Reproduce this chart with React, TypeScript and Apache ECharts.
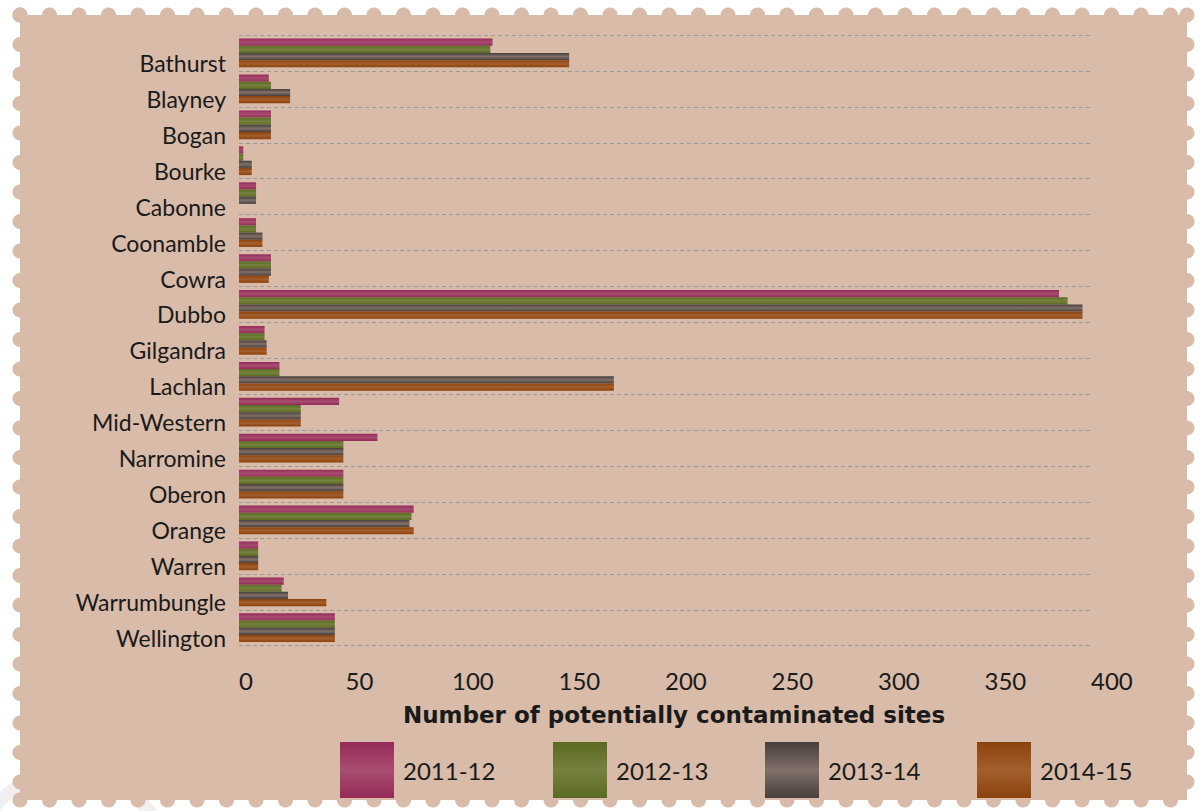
import React, { useEffect, useRef } from "react";
import * as echarts from "echarts";

const categories = [
  "Bathurst", "Blayney", "Bogan", "Bourke", "Cabonne", "Coonamble", "Cowra", "Dubbo",
  "Gilgandra", "Lachlan", "Mid-Western", "Narromine", "Oberon", "Orange", "Warren",
  "Warrumbungle", "Wellington",
];
const seriesNames = ["2011-12", "2012-13", "2013-14", "2014-15"];
const v2011_12 = [119, 14, 15, 2, 8, 8, 15, 385, 12, 19, 47, 65, 49, 82, 9, 21, 45];
const v2012_13 = [118, 15, 15, 2, 8, 8, 15, 389, 12, 19, 29, 49, 49, 81, 9, 20, 45];
const v2013_14 = [155, 24, 15, 6, 8, 11, 15, 396, 13, 176, 29, 49, 49, 80, 9, 23, 45];
const v2014_15 = [155, 24, 15, 6, 0, 11, 14, 396, 13, 176, 29, 49, 49, 82, 9, 41, 45];
const xTicks = [0, 50, 100, 150, 200, 250, 300, 350, 400];

const seriesValues = [v2011_12, v2012_13, v2013_14, v2014_15];
const seriesColors = [
  ["#942a59", "#a84d70"],
  ["#5a6a22", "#76823f"],
  ["#473e3b", "#7f7069"],
  ["#8a420d", "#a55f2c"],
];

const FONT = "Lato";
const TAN = "#d8bba9";

function grad(edge: string, mid: string) {
  return new echarts.graphic.LinearGradient(0, 0, 0, 1, [
    { offset: 0, color: edge },
    { offset: 0.5, color: mid },
    { offset: 1, color: edge },
  ]);
}

function stampGraphics() {
  const els: any[] = [];
  const L = 20, T = 15, R = 1187, B = 800, r = 7.5, step = 29.5;
  els.push({ type: "ring", shape: { cx: 70, cy: 870, r: 105, r0: 92 }, style: { fill: "#efefef" }, z: -30, silent: true });
  els.push({ type: "rect", shape: { x: L, y: T, width: R - L, height: B - T }, style: { fill: TAN }, z: -20, silent: true });
  for (let x = L; x <= R + 0.1; x += step) {
    els.push({ type: "circle", shape: { cx: x, cy: T, r }, style: { fill: TAN }, z: -20, silent: true });
    els.push({ type: "circle", shape: { cx: x, cy: B, r }, style: { fill: TAN }, z: -20, silent: true });
  }
  for (let y = T; y <= B + 0.1; y += step) {
    els.push({ type: "circle", shape: { cx: L, cy: y, r }, style: { fill: TAN }, z: -20, silent: true });
    els.push({ type: "circle", shape: { cx: R, cy: y, r }, style: { fill: TAN }, z: -20, silent: true });
  }
  return els;
}

export default function App() {
  const ref = useRef<HTMLDivElement>(null);
  useEffect(() => {
    if (!ref.current) return;
    const chart = echarts.init(ref.current, null, { renderer: "svg" });
    const legendLeft = [340, 553, 765, 977];
    chart.setOption({
      animation: false,
      backgroundColor: "#ffffff",
      graphic: stampGraphics(),
      grid: { left: 239, right: 109, top: 35, bottom: 165.3, containLabel: false },
      xAxis: {
        type: "value",
        min: xTicks[0],
        max: xTicks[xTicks.length - 1],
        interval: 50,
        axisLine: { show: false },
        axisTick: { show: false },
        splitLine: { show: false },
        axisLabel: {
          align: "left",
          margin: 23,
          fontFamily: FONT,
          fontSize: 24,
          color: "#1a1a1a",
        },
        name: "Number of potentially contaminated sites",
        nameLocation: "middle",
        nameGap: 58,
        nameTextStyle: {
          fontFamily: "DejaVu Sans",
          fontSize: 23,
          fontWeight: "bold",
          color: "#1a1a1a",
          padding: [0, 0, 0, 18],
        },
      },
      yAxis: {
        type: "category",
        data: categories,
        inverse: true,
        axisLine: { show: false },
        axisTick: { show: false },
        splitLine: { show: true, lineStyle: { color: "#999999", type: [4, 3], width: 1 } },
        axisLabel: {
          margin: 13,
          fontFamily: FONT,
          fontSize: 23,
          color: "#1a1a1a",
          verticalAlign: "top",
          lineHeight: 20,
        },
      },
      legend: seriesNames.map((n, i) => ({
        data: [n],
        left: legendLeft[i],
        top: 742,
        padding: 0,
        orient: "horizontal",
        icon: "rect",
        itemWidth: 54,
        itemHeight: 56,
        selectedMode: false,
        textStyle: { fontFamily: FONT, fontSize: 24, color: "#1a1a1a", padding: [16, 0, 0, 4] },
      })),
      series: seriesNames.map((n, i) => ({
        name: n,
        type: "bar",
        data: seriesValues[i],
        barGap: "0%",
        barCategoryGap: "20%",
        itemStyle: { color: grad(seriesColors[i][0], seriesColors[i][1]) },
      })),
    });
    return () => chart.dispose();
  }, []);
  return (
    <div
      ref={ref}
      style={{ position: "absolute", left: 0, top: 0, width: 1200, height: 811 }}
    />
  );
}
